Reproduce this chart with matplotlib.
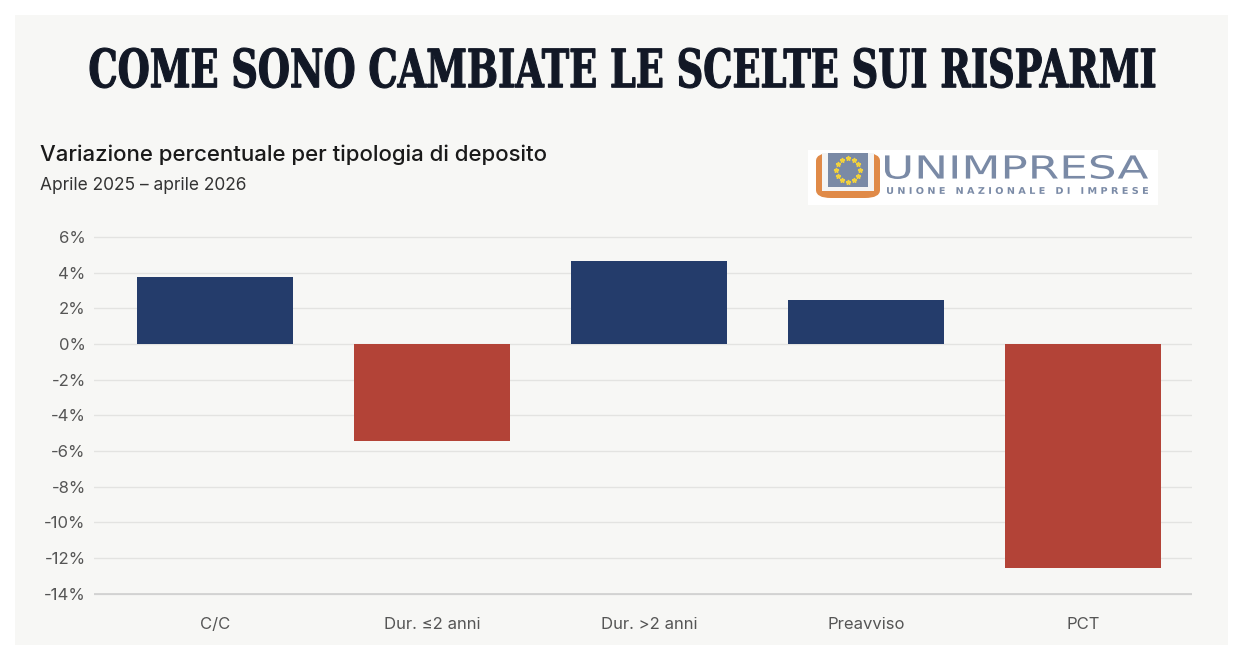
import matplotlib
matplotlib.use("Agg")
import matplotlib.pyplot as plt
from matplotlib.patches import Rectangle, FancyBboxPatch, PathPatch
from matplotlib.textpath import TextPath
from matplotlib.font_manager import FontProperties
from matplotlib.transforms import Affine2D, IdentityTransform
from matplotlib.ticker import FuncFormatter
import numpy as np

# data
categories = ["C/C", "Dur. ≤2 anni", "Dur. >2 anni", "Preavviso", "PCT"]
values = [3.75, -5.45, 4.65, 2.45, -12.55]
yticks = [6, 4, 2, 0, -2, -4, -6, -8, -10, -12, -14]

NAVY = "#243c6b"
RED = "#b34337"
PANEL = "#f7f7f5"
LOGO = "#7a8aa6"
W, H = 1250, 666

fig = plt.figure(figsize=(12.5, 6.66), dpi=100)
fig.patch.set_facecolor("white")

def fx(px):
    return px / W

def fy(py):
    return 1 - py / H

def fitted_text(s, x0, x1, top, bot, color, lw=0.0, **font):
    # text drawn as a path, stretched into a pixel box (top-left origin)
    tp = TextPath((0, 0), s, size=50, prop=FontProperties(**font))
    bb = tp.get_extents()
    tr = (Affine2D().translate(-bb.x0, -bb.y0)
          .scale((x1 - x0) / bb.width, (bot - top) / bb.height)
          .translate(x0, H - bot))
    fig.patches.append(PathPatch(tp, transform=tr + IdentityTransform(),
                                 facecolor=color, edgecolor=color,
                                 linewidth=lw, zorder=6))

# grey card behind everything
fig.patches.append(Rectangle((fx(15), fy(645)), fx(1228 - 15), (645 - 15) / H,
                             transform=fig.transFigure, facecolor=PANEL,
                             edgecolor="none", zorder=-5))

fitted_text("COME SONO CAMBIATE LE SCELTE SUI RISPARMI", 90, 1155, 48, 88,
            "#121826", lw=0.8, family="DejaVu Serif", weight="bold")

fig.text(fx(40), fy(155), "Variazione percentuale per tipologia di deposito",
         ha="left", va="center", fontsize=16, color="#1a1a1a", family="Inter",
         fontweight="medium")
fig.text(fx(40), fy(185), "Aprile 2025 – aprile 2026",
         ha="left", va="center", fontsize=12.5, color="#333333", family="Inter")

# logo
fig.patches.append(Rectangle((fx(808), fy(205)), fx(350), 55 / H,
                             transform=fig.transFigure, facecolor="white",
                             edgecolor="none", zorder=1))
fig.patches.append(FancyBboxPatch((fx(816), fy(198)), fx(64), 45 / H,
                                  boxstyle="round,pad=0,rounding_size=0.012",
                                  transform=fig.transFigure, facecolor="#e08a48",
                                  edgecolor="none", zorder=2))
fig.patches.append(Rectangle((fx(822), fy(191)), fx(52), 38 / H,
                             transform=fig.transFigure, facecolor="#f4f4f4",
                             edgecolor="none", zorder=3))
fig.patches.append(Rectangle((fx(828), fy(187)), fx(40), 34 / H,
                             transform=fig.transFigure, facecolor=LOGO,
                             edgecolor="none", zorder=4))
ang = np.linspace(0, 2 * np.pi, 12, endpoint=False)
fig.lines.append(plt.Line2D(fx(848 + 12 * np.cos(ang)), fy(170 + 12 * np.sin(ang)),
                            transform=fig.transFigure, linestyle="none",
                            marker="*", markersize=3.5, color="#f2d23c", zorder=5))
fitted_text("UNIMPRESA", 885, 1148, 155, 179, LOGO, family="DejaVu Sans")
fitted_text("U N I O N E   N A Z I O N A L E   D I   I M P R E S E",
            887, 1148, 187, 194, LOGO, family="DejaVu Sans", weight="bold")

# chart
ax = fig.add_axes([fx(94), fy(600), fx(1192 - 94), (600 - 230) / H])
ax.set_facecolor("none")
x = np.arange(len(categories))
colors = [NAVY if v >= 0 else RED for v in values]
ax.bar(x, values, width=0.72, color=colors, zorder=3)

ax.set_xlim(-0.558, 4.502)
ax.set_ylim(-14.35, 6.4)
ax.set_yticks(yticks)
ax.yaxis.set_major_formatter(FuncFormatter(lambda v, p: f"{int(v)}%"))
ax.grid(axis="y", color="#e3e3e1", linewidth=1, zorder=0)
ax.axhline(-14, color="#cfcfcf", linewidth=1.2, zorder=2)
ax.set_xticks(x)
ax.set_xticklabels(categories)
ax.tick_params(axis="both", length=0, labelsize=12, labelcolor="#555555")
ax.tick_params(axis="x", pad=12)
ax.tick_params(axis="y", pad=6)
for lab in ax.get_xticklabels() + ax.get_yticklabels():
    lab.set_family("Inter")
for s in ax.spines.values():
    s.set_visible(False)

fig.savefig("out.png", dpi=100, facecolor="white")
